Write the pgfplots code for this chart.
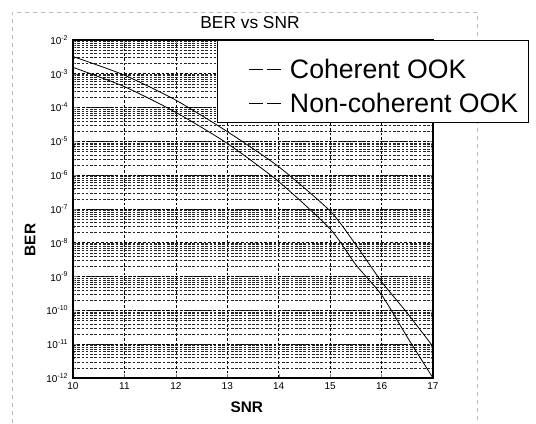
\documentclass[border=0pt]{standalone}
\usepackage{fontspec}
\setmainfont{Liberation Sans}
\usepackage{pgfplots}
\pgfplotsset{compat=1.18}
\newcommand{\dashsample}{\hspace*{15.75pt}\tikz[baseline=0pt]{\draw[black, line width=1pt, solid] (0pt,0.36em) -- (10.5pt,0.36em); \draw[black, line width=1pt, solid] (13.5pt,0.36em) -- (24pt,0.36em);}\hspace*{6pt}}
\begin{document}
\begin{tikzpicture}
\path[use as bounding box] (-54.75pt,-34.5pt) rectangle (347.25pt,283.5pt);
\draw[gray!55, dash pattern=on 3pt off 3pt, line width=0.4pt] (-45.75pt,-40pt) -- (-45.75pt,274.5pt) -- (303pt,274.5pt) -- (303pt,-40pt);
\begin{axis}[
  at={(0pt,0pt)}, anchor=south west,
  scale only axis, width=270pt, height=253.5pt,
  ymode=log,
  xmin=10, xmax=17, ymin=1e-12, ymax=1e-2,
  xtick={10,11,12,13,14,15,16,17},
  ytick={1e-12,1e-11,1e-10,1e-9,1e-8,1e-7,1e-6,1e-5,1e-4,1e-3,1e-2},
  yticklabels={10\textsuperscript{-12},10\textsuperscript{-11},10\textsuperscript{-10},10\textsuperscript{-9},10\textsuperscript{-8},10\textsuperscript{-7},10\textsuperscript{-6},10\textsuperscript{-5},10\textsuperscript{-4},10\textsuperscript{-3},10\textsuperscript{-2}},
  /pgf/number format/assume math mode=true,
  tick label style={font=\fontsize{7.5}{8}\selectfont},
  tick align=inside,
  major tick length=3pt, minor tick length=1.5pt,
  grid=both,
  major grid style={black, line width=0.45pt, dash pattern=on 2pt off 1.5pt},
  minor grid style={black!85, line width=0.4pt, dash pattern=on 2pt off 1.2pt},
  axis line style={black, line width=0.9pt},
  every axis title shift=0pt,
  title={BER vs SNR},
  title style={at={(axis description cs:0.4917,1.0503)}, anchor=center, font=\fontsize{13}{14}\selectfont},
  xlabel={SNR},
  xlabel style={at={(axis description cs:0.483,-0.0858)}, anchor=center, font=\fontsize{11.5}{12}\selectfont\bfseries},
  ylabel={BER},
  ylabel style={at={(axis description cs:-0.1194,0.408)}, anchor=center, font=\fontsize{11.5}{12}\selectfont\bfseries},
  legend style={at={(axis description cs:0.4,1)}, anchor=north west,
    draw=black, line width=1pt, fill=white,
    font=\fontsize{20}{22}\selectfont,
    inner xsep=7.5pt, inner ysep=5.1pt, row sep=0pt,
    nodes={inner xsep=0pt, inner ysep=0pt, text height=23.6pt, text depth=1.9pt}},
  legend cell align=left,
  legend image code/.code={},
]
\addplot[black, line width=0.6pt, smooth, tension=0.4] coordinates {
(10,1.55e-3) (11,4.17e-4) (12,7.24e-5) (13,8.71e-6) (14,6.46e-7) (15,2.57e-8) (15.5,2.24e-9) (16,2.88e-10) (16.5,1.62e-11) (17,1.0e-12)};
\addlegendentry{\dashsample Coherent OOK}
\addplot[black, line width=0.6pt, smooth, tension=0.4] coordinates {
(10,3.24e-3) (11,9.12e-4) (12,1.66e-4) (13,1.95e-5) (14,1.78e-6) (15,8.71e-8) (15.5,8.71e-9) (16,7.08e-10) (16.5,8.32e-11) (17,8.51e-12)};
\addlegendentry{\dashsample Non-coherent OOK}
\end{axis}
\end{tikzpicture}
\end{document}
